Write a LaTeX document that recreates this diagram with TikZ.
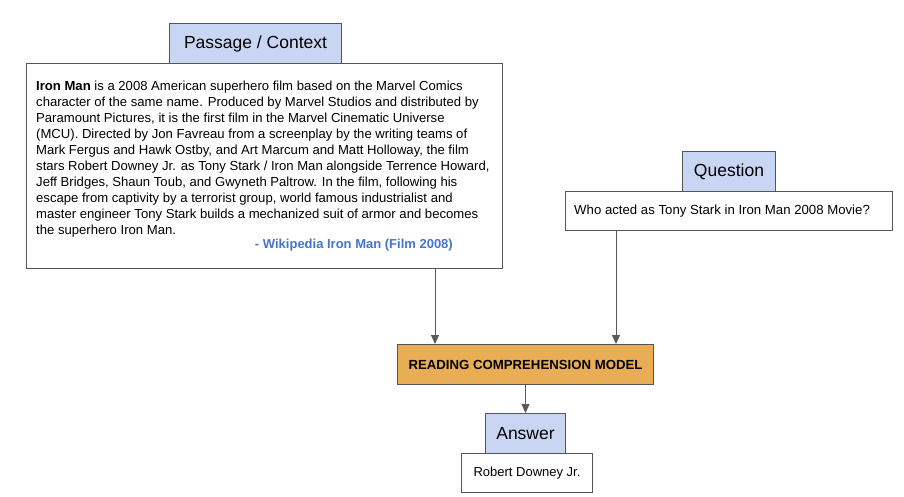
\documentclass[tikz,border=0pt]{standalone}
\usepackage{fontspec}
\setmainfont{Liberation Sans}
\usetikzlibrary{arrows.meta}
\definecolor{lblfill}{HTML}{C9D6F3}
\definecolor{boxline}{HTML}{555555}
\definecolor{arrline}{HTML}{5A5A5A}
\definecolor{modelfill}{HTML}{E9AD55}
\definecolor{citeblue}{HTML}{4674CF}
\tikzset{
  box/.style={draw=boxline, line width=1pt, fill=white, rectangle, inner sep=0pt, anchor=north west},
  lbl/.style={draw=boxline, line width=1pt, fill=lblfill, rectangle, inner sep=0pt, anchor=north west, font=\fontsize{17.5}{20}\selectfont},
  txt/.style={inner sep=0pt, font=\fontsize{13.1}{16}\selectfont, text=black},
  arr/.style={draw=arrline, line width=1pt, -{Triangle[length=9pt,width=8pt]}}
}
\begin{document}
\begin{tikzpicture}[x=1pt,y=-1pt]
\useasboundingbox (0,0) rectangle (904,496);
\fill[white] (0,0) rectangle (904,496);
% Passage
\node[lbl, minimum width=172pt, minimum height=40pt] (plabel) at (169,23) {Passage / Context};
\node[box, minimum width=476pt, minimum height=205pt] (passage) at (26,63) {};
\node[txt, anchor=north west, align=left] (ptext) at (36,79.4) {\strut\textbf{Iron Man} is a 2008 American superhero film based on the Marvel Comics\\
character of the same name. Produced by Marvel Studios and distributed by\\
Paramount Pictures, it is the first film in the Marvel Cinematic Universe\\
(MCU). Directed by Jon Favreau from a screenplay by the writing teams of\\
Mark Fergus and Hawk Ostby, and Art Marcum and Matt Holloway, the film\\
stars Robert Downey Jr. as Tony Stark / Iron Man alongside Terrence Howard,\\
Jeff Bridges, Shaun Toub, and Gwyneth Paltrow. In the film, following his\\
escape from captivity by a terrorist group, world famous industrialist and\\
master engineer Tony Stark builds a mechanized suit of armor and becomes\\
the superhero Iron Man.};
\node[txt, anchor=east, text=citeblue, font=\fontsize{13}{16}\selectfont\bfseries] (cite) at (453,245) {- Wikipedia Iron Man (Film 2008)};
% Question
\node[lbl, minimum width=93pt, minimum height=40pt] (qlabel) at (682,151) {Question};
\node[box, minimum width=327pt, minimum height=39pt] (question) at (565,191) {};
\node[txt, anchor=west, font=\fontsize{13.2}{16}\selectfont] (qtext) at (574,211) {Who acted as Tony Stark in Iron Man 2008 Movie?};
% Model
\node[box, fill=modelfill, minimum width=256pt, minimum height=40pt, font=\fontsize{13.2}{15}\selectfont\bfseries] (model) at (397,344) {READING COMPREHENSION MODEL};
% Answer
\node[lbl, minimum width=80pt, minimum height=40pt] (alabel) at (485,413) {Answer};
\node[box, minimum width=131pt, minimum height=39pt, font=\fontsize{13}{15}\selectfont] (answer) at (461,453) {Robert Downey Jr.};
% Connectors
\coordinate (px) at (435,0);
\coordinate (qx) at (616,0);
\draw[arr] (passage.south -| px) -- (model.north -| px);
\draw[arr] (question.south -| qx) -- (model.north -| qx);
\draw[arr] (model.south) -- (alabel.north);
\end{tikzpicture}
\end{document}
